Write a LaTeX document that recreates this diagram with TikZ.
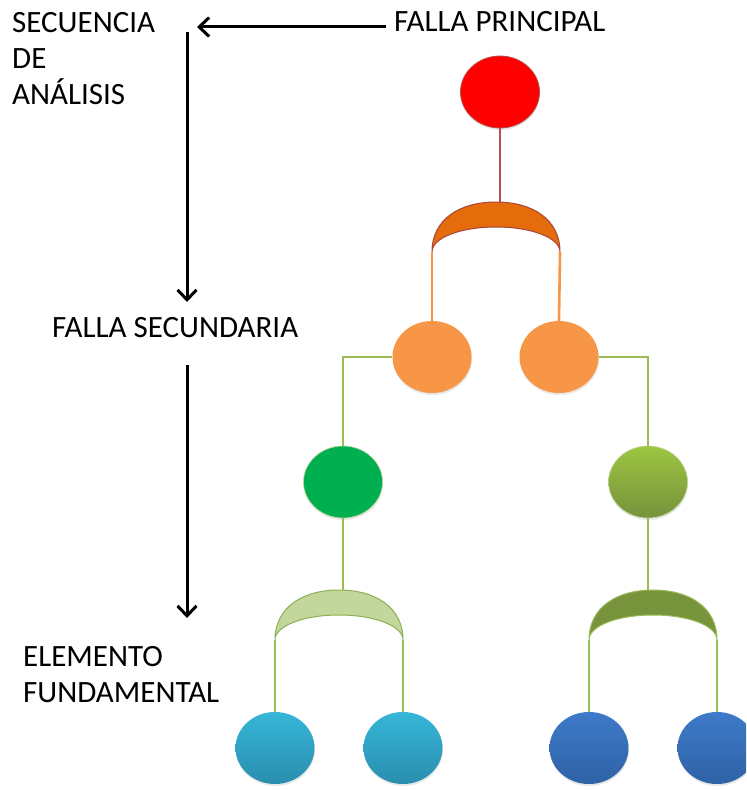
\documentclass[tikz,border=0pt]{standalone}
\usepackage{fontspec}
\setmainfont{Carlito}
\usetikzlibrary{shapes.geometric,arrows.meta,shadows}

\definecolor{redfill}{HTML}{FF0000}
\definecolor{redline}{HTML}{B9504D}
\definecolor{orgate}{HTML}{E46C0A}
\definecolor{orgateline}{HTML}{A9473C}
\definecolor{orfill}{HTML}{F79646}
\definecolor{grfill}{HTML}{00B050}
\definecolor{lgtop}{HTML}{9DC642}
\definecolor{lgbot}{HTML}{76923C}
\definecolor{grline}{HTML}{9BBB59}
\definecolor{palegate}{HTML}{C3D69B}
\definecolor{palegateline}{HTML}{8DB255}
\definecolor{olivegate}{HTML}{77933C}
\definecolor{cytop}{HTML}{36B6D8}
\definecolor{cybot}{HTML}{2A8EAE}
\definecolor{bltop}{HTML}{3E7AC9}
\definecolor{blbot}{HTML}{2F62A6}

\tikzset{
  ball/.style={ellipse, inner sep=0pt, minimum width=79pt, minimum height=72pt,
    drop shadow={opacity=0.18, shadow xshift=0.5pt, shadow yshift=-2pt}},
  label/.style={font=\fontsize{31}{36}\selectfont, inner sep=0pt, align=left, anchor=north west},
  seqarrow/.style={line width=3pt, -{Straight Barb[length=10pt,width=19pt,line width=3pt]}},
  link/.style={line width=1.8pt},
  heavylink/.style={line width=2.6pt},
  % AND-gate cap: rounded outer dome over a shallower inner arc
  gatecap/.pic={
    \path[pic actions] (-64pt,0pt)
      .. controls (-64pt,33pt) and (-36pt,50pt) .. (0pt,50pt)
      .. controls (36pt,50pt) and (64pt,33pt) .. (64pt,0pt)
      .. controls (64pt,14pt) and (36pt,25pt) .. (0pt,25pt)
      .. controls (-36pt,25pt) and (-64pt,14pt) .. (-64pt,0pt) -- cycle;
    \coordinate (-top) at (0pt,50pt);
    \coordinate (-l) at (-64pt,0pt);
    \coordinate (-r) at (64pt,0pt);
  }
}

\begin{document}
\begin{tikzpicture}[x=1pt,y=-1pt]
\clip (0,0) rectangle (746,791);
\fill[white] (0,0) rectangle (746,791);

% analysis sequence on the left
\node[label] (seq) at (12,12) {SECUENCIA\\DE\\ANÁLISIS};
\node[label] (fp) at (394,11) {FALLA PRINCIPAL};
\node[label] (fs) at (52,317) {FALLA SECUNDARIA};
\node[label] (ef) at (23,646) {ELEMENTO\\FUNDAMENTAL};

\coordinate (hA) at (386,27);
\coordinate (hB) at (197,27);
\coordinate (vA) at (187,32);
\coordinate (vB) at (187,302);
\coordinate (vC) at (187,365);
\coordinate (vD) at (187,618);
\draw[seqarrow] (hA) -- (hB);
\draw[seqarrow] (vA) -- (vB);
\draw[seqarrow] (vC) -- (vD);

% fault tree
\node[ball, fill=redfill, draw=redline, line width=0.8pt] (top) at (500,92) {};
\pic[fill=orgate, draw=orgateline, line width=1pt] (g1) at (496,252) {gatecap};

\node[ball, fill=orfill] (o1) at (432,357) {};
\node[ball, fill=orfill] (o2) at (559,357) {};

\node[ball, fill=grfill, draw=grline!60, line width=0.6pt] (gL) at (343,482) {};
\node[ball, top color=lgtop, bottom color=lgbot, draw=grline!60, line width=0.6pt] (gR) at (648,482) {};

\pic[fill=palegate, draw=palegateline, line width=1pt] (g2) at (339,640) {gatecap};
\pic[fill=olivegate, draw=grline, line width=1pt] (g3) at (653,640) {gatecap};

\node[ball, top color=cytop, bottom color=cybot] (c1) at (275,748) {};
\node[ball, top color=cytop, bottom color=cybot] (c2) at (403,748) {};
\node[ball, top color=bltop, bottom color=blbot] (b1) at (589,748) {};
\node[ball, top color=bltop, bottom color=blbot] (b2) at (717,748) {};

% connectors
\draw[heavylink, redline] (top.south) -- (top.south |- g1-top);
\draw[heavylink, orfill] (g1-l) -- (o1.north);
\draw[heavylink, orfill] (g1-r) -- (o2.north);
\draw[link, grline] (o1.west) -| (gL.north);
\draw[link, grline] (o2.east) -| (gR.north);
\draw[link, grline] (gL.south) -- (gL.south |- g2-top);
\draw[link, grline] (gR.south) -- (gR.south |- g3-top);
\draw[link, grline] (g2-l) -- (c1.north);
\draw[link, grline] (g2-r) -- (c2.north);
\draw[link, grline] (g3-l) -- (b1.north);
\draw[link, grline] (g3-r) -- (b2.north);
\end{tikzpicture}
\end{document}
